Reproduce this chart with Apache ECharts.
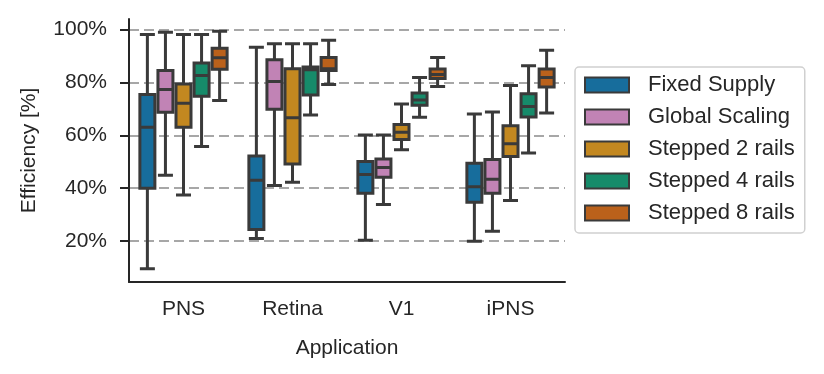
<!DOCTYPE html>
<html>
<head>
<meta charset="utf-8">
<title>Efficiency</title>
<script src="https://cdn.jsdelivr.net/npm/echarts@6/dist/echarts.min.js"></script>
<style>
  html, body { margin: 0; padding: 0; background: #fff; }
  #chart { width: 824px; height: 374px; }
</style>
</head>
<body>
<div id="chart"></div>
<script>
// 效率箱线图：每个应用 5 种供电方式
const applications = ['PNS', 'Retina', 'V1', 'iPNS']
const yTicks = [20, 40, 60, 80, 100]

// [min, Q1, median, Q3, max]
const fixedSupply = [
  [9.5, 40.0, 63.0, 75.4, 98.1],
  [21.0, 24.4, 43.0, 52.2, 93.3],
  [20.3, 38.1, 45.2, 50.1, 60.1],
  [19.9, 34.7, 40.5, 49.4, 68.1]
]
const globalScaling = [
  [44.9, 68.7, 77.3, 84.5, 99.0],
  [41.0, 69.9, 80.4, 88.6, 94.6],
  [33.8, 44.1, 47.8, 51.0, 60.1],
  [23.7, 38.1, 43.4, 50.8, 68.8]
]
const stepped2 = [
  [37.4, 63.0, 72.1, 79.4, 98.1],
  [42.2, 49.1, 66.6, 85.2, 94.6],
  [54.5, 58.4, 61.2, 64.1, 71.8],
  [35.3, 52.0, 56.8, 63.6, 78.8]
]
const stepped4 = [
  [55.8, 74.8, 82.6, 87.4, 98.1],
  [67.7, 75.2, 84.8, 85.8, 94.6],
  [66.8, 71.4, 73.4, 76.0, 81.9],
  [53.3, 66.9, 70.9, 75.7, 86.3]
]
const stepped8 = [
  [73.2, 85.0, 89.3, 92.9, 99.4],
  [79.2, 84.5, 85.2, 89.4, 96.0],
  [78.5, 81.5, 83.0, 85.1, 89.4],
  [68.4, 78.3, 81.9, 85.1, 92.2]
]

const seriesNames = ['Fixed Supply', 'Global Scaling', 'Stepped 2 rails', 'Stepped 4 rails', 'Stepped 8 rails']
const seriesData = [fixedSupply, globalScaling, stepped2, stepped4, stepped8]
const colors = ['#176d9c', '#c183b5', '#c38820', '#168b6a', '#ba611b']

const font = "'Liberation Sans', Arial, sans-serif"
const textColor = '#262626'
const edgeColor = '#3a3a3a'

const chart = echarts.init(document.getElementById('chart'))

const option = {
  animation: false,
  textStyle: { fontFamily: font },
  grid: { left: 129, right: 259, top: 19, bottom: 92, containLabel: false },
  legend: {
    orient: 'vertical',
    left: 575,
    top: 67,
    padding: [7, 10, 9, 9],
    itemWidth: 44,
    itemHeight: 15,
    itemGap: 10,
    icon: 'rect',
    borderColor: '#d0d0d0',
    borderWidth: 1.5,
    borderRadius: 4,
    textStyle: { fontSize: 22, color: textColor, fontFamily: font, padding: [0, 0, 0, 14] },
    data: seriesNames.map((name, i) => ({
      name: name,
      itemStyle: { color: colors[i], borderColor: edgeColor, borderWidth: 2 }
    }))
  },
  xAxis: {
    type: 'category',
    data: applications,
    name: 'Application',
    nameLocation: 'middle',
    nameGap: 56,
    nameTextStyle: { fontSize: 21, color: textColor, fontFamily: font },
    axisLine: { lineStyle: { color: textColor, width: 2 } },
    axisTick: { alignWithLabel: true, length: 9, lineStyle: { color: textColor, width: 2 } },
    axisLabel: { fontSize: 21, color: textColor, margin: 17, fontFamily: font },
    splitLine: { show: false }
  },
  yAxis: {
    type: 'value',
    min: 4.5,
    max: 104,
    name: 'Efficiency [%]',
    nameLocation: 'middle',
    nameGap: 89,
    nameTextStyle: { fontSize: 21, color: textColor, fontFamily: font },
    axisLine: { show: true, lineStyle: { color: textColor, width: 2 } },
    axisTick: { show: true, length: 9, customValues: yTicks, lineStyle: { color: textColor, width: 2 } },
    axisLabel: {
      fontSize: 21,
      color: textColor,
      margin: 22,
      fontFamily: font,
      customValues: yTicks,
      formatter: (v) => v + '%'
    },
    splitLine: { show: true, lineStyle: { color: '#8a8a8a', width: 1.6, type: [10, 5] } }
  },
  series: seriesNames.map((name, i) => ({
    name: name,
    type: 'boxplot',
    data: seriesData[i],
    boxWidth: [15, 15],
    itemStyle: { color: colors[i], borderColor: edgeColor, borderWidth: 3 },
    emphasis: { disabled: true }
  }))
}

chart.setOption(option)
</script>
</body>
</html>
